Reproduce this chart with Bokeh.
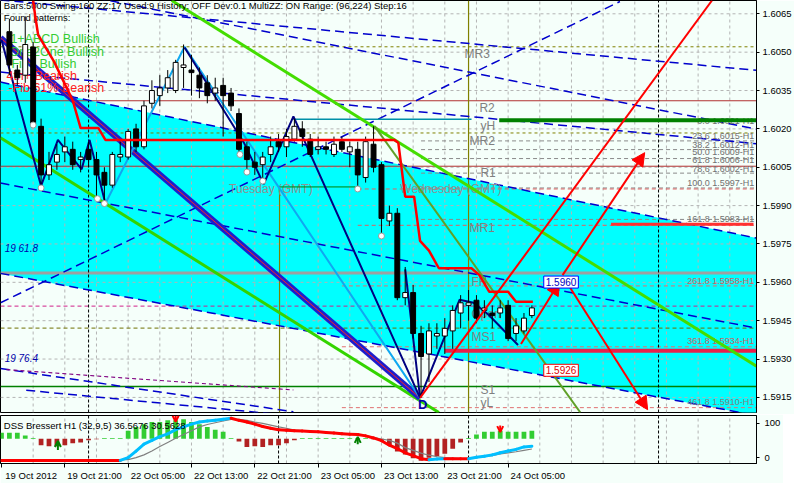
from bokeh.plotting import figure
from bokeh.models import (Range1d, FixedTicker, Label, Arrow, NormalHead, OpenHead,
                          NumeralTickFormatter, ColumnDataSource)
from bokeh.layouts import column
from bokeh.embed import file_html
from bokeh.resources import INLINE
from bokeh.core.properties import value

FONT = "Liberation Sans"
BG = "#F5FFFA"

# ---------------- data: H1 candles (bar 0 = 19 Oct 14:00) ----------------
opens = [1.6058, 1.6043, 1.6041, 1.6052, 1.6021, 1.6002, 1.6007, 1.6011, 1.6012, 1.6008,
         1.6012, 1.6008, 1.6003, 1.5998, 1.6009, 1.6009, 1.6020, 1.6013, 1.6030, 1.6033,
         1.6036, 1.6035, 1.6044, 1.6043, 1.6041, 1.6038, 1.6034, 1.6037, 1.6034, 1.6026,
         1.6013, 1.6007, 1.6006, 1.6010, 1.6015, 1.6013, 1.6016, 1.6020, 1.6016, 1.6012,
         1.6013, 1.6010, 1.6015, 1.6011, 1.6012, 1.6001, 1.6014, 1.6006, 1.5984, 1.5987,
         1.5954, 1.5956, 1.5940, 1.5932, 1.5939, 1.5939, 1.5941, 1.5948, 1.5951, 1.5953,
         1.5949, 1.5948, 1.5948, 1.5951, 1.5940, 1.5941, 1.5947]
highs = [1.6063, 1.6045, 1.6064, 1.6054, 1.6024, 1.6011, 1.6014, 1.6017, 1.6015, 1.6011,
         1.6015, 1.6011, 1.6005, 1.6011, 1.6015, 1.6020, 1.6022, 1.6031, 1.6039, 1.6041,
         1.6043, 1.6047, 1.6053, 1.6049, 1.6044, 1.6041, 1.6040, 1.6040, 1.6036, 1.6028,
         1.6015, 1.6011, 1.6011, 1.6017, 1.6018, 1.6020, 1.6024, 1.6023, 1.6018, 1.6017,
         1.6015, 1.6017, 1.6017, 1.6015, 1.6015, 1.6017, 1.6021, 1.6007, 1.5990, 1.5989,
         1.5966, 1.5959, 1.5943, 1.5944, 1.5944, 1.5946, 1.5951, 1.5955, 1.5957, 1.5955,
         1.5953, 1.5951, 1.5953, 1.5953, 1.5946, 1.5948, 1.5951]
lows = [1.6041, 1.6037, 1.6038, 1.6021, 1.5997, 1.6000, 1.6004, 1.6007, 1.6004, 1.6003,
        1.6005, 1.5993, 1.5991, 1.5997, 1.6007, 1.6008, 1.6011, 1.6012, 1.6028, 1.6029,
        1.6034, 1.6034, 1.6036, 1.6033, 1.6032, 1.6030, 1.6031, 1.6017, 1.6027, 1.6010,
        1.6003, 1.6002, 1.5999, 1.6007, 1.6011, 1.6009, 1.6015, 1.6013, 1.6009, 1.6010,
        1.6010, 1.6009, 1.6011, 1.6005, 1.5997, 1.5999, 1.6003, 1.5978, 1.5982, 1.5953,
        1.5951, 1.5938, 1.5915, 1.5921, 1.5934, 1.5932, 1.5934, 1.5942, 1.5945, 1.5944,
        1.5946, 1.5942, 1.5946, 1.5937, 1.5937, 1.5940, 1.5946]
closes = [1.6045, 1.6040, 1.6053, 1.6022, 1.6002, 1.6006, 1.6010, 1.6013, 1.6006, 1.6009,
          1.6008, 1.6002, 1.5998, 1.6010, 1.6010, 1.6019, 1.6013, 1.6029, 1.6035, 1.6036,
          1.6040, 1.6046, 1.6045, 1.6042, 1.6036, 1.6033, 1.6036, 1.6033, 1.6029, 1.6012,
          1.6008, 1.6005, 1.6009, 1.6013, 1.6013, 1.6017, 1.6021, 1.6017, 1.6010, 1.6013,
          1.6012, 1.6014, 1.6012, 1.6013, 1.6002, 1.6015, 1.6005, 1.5985, 1.5987, 1.5954,
          1.5956, 1.5940, 1.5931, 1.5941, 1.5940, 1.5942, 1.5949, 1.5952, 1.5952, 1.5946,
          1.5950, 1.5947, 1.5950, 1.5938, 1.5943, 1.5946, 1.5950]
assert len(opens) == len(highs) == len(lows) == len(closes) == 67
bars = list(range(len(opens)))

last_price = 1.5950
price_ticks = [1.5915, 1.5930, 1.5945, 1.5960, 1.5975, 1.5990, 1.6005, 1.6020, 1.6035, 1.6050, 1.6065]
time_ticks = [-1, 7, 15, 23, 31, 39, 47, 55, 63]
time_labels = ["19 Oct 2012", "19 Oct 21:00", "22 Oct 05:00", "22 Oct 13:00", "22 Oct 21:00",
               "23 Oct 05:00", "23 Oct 13:00", "23 Oct 21:00", "24 Oct 05:00"]
grid_bars = [3, 7, 11, 15, 19, 23, 27, 31, 35, 39, 43, 47, 51, 55, 59, 63, 67, 71, 75, 79, 83, 87, 91]

# regression channel (cyan band) corners
cyan_x = [-1.125, 94.375, 94.375, -1.125]
cyan_y = [1.60383, 1.59773, 1.59079, 1.59635]

# full-width horizontal levels (MR3, R2, MR2, R1, FH, bid, MS1, S1)
level_prices = [1.60521, 1.60310, 1.60184, 1.60054, 1.59636, 1.59507, 1.59421, 1.59193]
level_colors = ["#808000", "#B03030", "#808000", "#B03030", "#A0A0A0", "#D0208A", "#707000", "#008000"]
level_widths = [1, 1, 1, 1, 3, 1, 1, 1.5]
level_dashes = ["3 3", "solid", "3 3", "solid", "solid", "4 3", "4 3", "solid"]

# partial horizontal levels
part_prices = [1.60234, 1.59827, 1.59332, 1.60238, 1.59973]
part_x0 = [61.875, 76, 55, 35.875, 34.125]
part_x1 = [94.375, 94, 94.375, 58.375, 43.75]
part_colors = ["#008000", "#FF3030", "#E8204A", "#0090A8", "#008000"]
part_widths = [4, 3, 4, 1.5, 1]

# fibo dashed levels
fib_gray_prices = [1.60153, 1.60119, 1.60084, 1.60027, 1.59969, 1.59846]
fib_red_prices = [1.59965, 1.59823]
fib_pink_prices = [1.59586, 1.59348, 1.59110]

# dashed channel lines: (x0, y0, x1, y1)
chan_x0 = [-1.125, -1.125, -1.125, -1.125, -1.125, -1.125, -1.125, -1.125, 2.125]
chan_y0 = [1.60704, 1.60786, 1.60383, 1.60422, 1.59988, 1.59635, 1.59520, 1.59263, 1.59178]
chan_x1 = [94.375, 94.375, 94.375, 94.375, 94.375, 94.375, 77.125, 35.875, 34.625]
chan_y1 = [1.60429, 1.60199, 1.59773, 1.60142, 1.59421, 1.59079, 1.60698, 1.59094, 1.59082]
purple_x = [-0.375, 35.875]
purple_y = [1.59259, 1.59179]

# trend lines
blue_x = [-1.125, 51.875]
blue_y = [1.60556, 1.59148]
green1_x = [-1.125, 54.25]
green1_y = [1.60165, 1.59091]
green2_x = [20.5, 94.375]
green2_y = [1.60702, 1.59272]
green3_x = [46.125, 72.125]
green3_y = [1.60211, 1.59091]

# zigzags
zz1_x = [-1, 4, 6.125, 9.125, 10.125, 12.125]
zz1_y = [1.60548, 1.59977, 1.60157, 1.60042, 1.60157, 1.59908]
zz2_x = [22.125, 29.625, 32.125, 35.875, 51.875]
zz2_y = [1.60518, 1.60146, 1.59984, 1.60249, 1.59148]
zz3_x = [50, 51.875, 56.875, 58.625, 60.5, 64.25]
zz3_y = [1.59651, 1.59148, 1.59532, 1.59520, 1.59474, 1.59355]
lb_x = [12.125, 22.125, 51.875]
lb_y = [1.59908, 1.60521, 1.59148]

# red step line
step_x = [3, 3.25, 3.625, 5.625, 8, 9, 11.25, 12.125, 48.625, 49.125, 50, 51.125, 51.875,
          53, 54.25, 58.375, 59.375, 60.625, 63, 64, 66.125]
step_y = [1.60702, 1.60644, 1.60568, 1.60464, 1.60311, 1.60203, 1.60203, 1.60157, 1.60157,
          1.60146, 1.59935, 1.59935, 1.59762, 1.59724, 1.59655, 1.59655, 1.59628, 1.59563,
          1.59563, 1.59524, 1.59524]

# projection arrows
proj_x = [51.875, 88.75]
proj_y = [1.59148, 1.60702]
arrow_x0 = [64.625, 70.375, 69.875]
arrow_y0 = [1.59359, 1.59601, 1.59628]
arrow_x1 = [69.5, 80.625, 80.25]
arrow_y1 = [1.59601, 1.59102, 1.60107]

# swing markers
swing_x = [3, 4, 11.125, 12, 29.125, 30, 32, 44, 47]
swing_y = [1.60215, 1.59969, 1.59927, 1.59908, 1.60100, 1.60031, 1.59996, 1.59965, 1.59781]

# texts
info_text = "Bars:5000 Swing:160 ZZ:17 Used:9 History: OFF Dev:0.1 MultiZZ: ON Range: (96,224) Step:16"
pattern_text = ["1+ABCD Bullish", "One2One Bullish", "Fib+ Bullish", "4th+ Bearish", "-Fib 61% Bearish"]
pattern_x = [0.125, 0.0, 0.25, -0.375, -0.125]
pattern_y = [1.60552, 1.60502, 1.60452, 1.60406, 1.60360]
pattern_colors = ["#33CC33", "#33CC33", "#33CC33", "#FF2020", "#FF2020"]
lvl_text = ["MR3", "R2", "yH", "MR2", "R1", "MR1", "FH", "Open", "MS1", "S1", "yL"]
lvl_text_x = [57.5, 59.375, 59.5, 58.125, 59.5, 58.125, 58.375, 58.375, 58.375, 59.5, 59.5]
lvl_text_y = [1.60491, 1.60280, 1.60211, 1.60153, 1.60027, 1.59812, 1.59601, 1.59478, 1.59386, 1.59179, 1.59128]
sess_text = ["Tuesday  (GMT)", "Wednesday  (GMT)"]
sess_x = [27.75, 49.375]
sess_y = [1.59965, 1.59965]
fib_text = ["0.0 1.6021-H1", "23.6 1.6015-H1", "38.2 1.6012-H1", "50.0 1.6009-H1", "61.8 1.6006-H1",
            "78.6 1.6002-H1", "100.0 1.5997-H1", "161.8 1.5983-H1", "261.8 1.5958-H1",
            "361.8 1.5934-H1", "461.8 1.5910-H1"]
fib_text_y = [1.60230, 1.60172, 1.60138, 1.60111, 1.60080, 1.60042, 1.59988, 1.59846, 1.59605, 1.59371, 1.59133]
fib_text_colors = ["#707070"] * 8 + ["#C86464", "#C86464", "#808080"]
chan_text = ["19 61.8", "19 76.4"]
chan_text_y = [1.59712, 1.59282]

# ---------------- DSS Bressert indicator ----------------
ind_bars = list(range(-1, 67))
hist_vals = [72, 72, 72, 64, 57, 36, 33, 33, 36, 42,
             44, 50, 53, 57, 57, 57, 78, 89, 97, 103,
             103, 108, 108, 111, 103, 97, 89, 81, 75, 57,
             47, 31, 33, 31, 36, 36, 42, 50, 57, 57,
             57, 57, 57, 57, 57, 57, 57, 53, 48, 35,
             18, 9, -2, -9, 0, 5, 11, 26, 44, 57,
             67, 75, 75, 78, 75, 75, 75, 78]
dss_main = [-8, -8, -8, -8, -8, -8, -8, -8, -8, -8,
            -8, -8, -8, -8, -8, -8, 0, 19, 39, 50,
            61, 69, 81, 89, 97, 103, 106, 108, 111, 114,
            108, 103, 97, 90, 85, 81, 79, 78, 77, 76,
            75, 73, 71, 69, 68, 67, 63, 57, 49, 36,
            26, 14, 6, -3, -6, -4, -3, -3, -3, -3,
            1, 4, 8, 14, 19, 24, 31, 33]
dss_signal = [-6, -6, -6, -6, -6, -6, -6, -6, -6, -6,
              -6, -6, -6, -6, -6, -6, -6, 0, 8, 19,
              32, 44, 56, 67, 78, 89, 96, 101, 106, 111,
              111, 108, 103, 99, 94, 89, 85, 80, 78, 76,
              75, 73, 71, 70, 69, 68, 64, 59, 54, 50,
              42, 29, 21, 13, 7, 3, 0, -1, -3, -3,
              0, 3, 6, 11, 14, 17, 21, 25]
assert len(hist_vals) == len(dss_main) == len(dss_signal) == len(ind_bars)
hist_base = 55
day_sep = [10, 34, 58, 82]
ind_up_x = [6.125, 44]
ind_up_y0 = [22, 39]
ind_up_y1 = [48, 60]
ind_dn_x = [21, 62]
ind_dn_y0 = [121, 93]
ind_dn_y1 = [104, 74]

X_MIN, X_MAX = -1.125, 94.375
Y_MIN, Y_MAX = 1.59091, 1.60702

# ================= main price pane =================
p = figure(frame_width=756, frame_height=412,
           x_range=Range1d(X_MIN, X_MAX), y_range=Range1d(Y_MIN, Y_MAX),
           x_axis_location=None, y_axis_location="right",
           output_backend="svg", toolbar_location=None,
           background_fill_color=BG, border_fill_color=BG,
           min_border_left=0, min_border_top=0, min_border_bottom=2, min_border_right=0)
p.grid.visible = False
p.outline_line_color = "black"
ya = p.yaxis[0]
ya.ticker = FixedTicker(ticks=price_ticks)
ya.formatter = NumeralTickFormatter(format="0.0000")
ya.major_label_text_font = FONT
ya.major_label_text_font_size = "9.5px"
ya.major_label_text_color = "black"
ya.axis_line_color = "black"
ya.major_tick_in = 0
ya.major_tick_out = 3
ya.minor_tick_line_color = None
ya.major_label_standoff = 3

# cyan channel
p.patch(x=cyan_x, y=cyan_y, fill_color="#00FFFF", line_color=None)

# grid
p.multi_line(xs=[[b, b] for b in grid_bars], ys=[[Y_MIN, Y_MAX] for _ in grid_bars],
             line_color="#B4B4B4", line_dash="3 3", line_width=1)
p.multi_line(xs=[[X_MIN, X_MAX] for _ in price_ticks], ys=[[t, t] for t in price_ticks],
             line_color="#B4B4B4", line_dash="3 3", line_width=1)

# fib dashed
for fp in fib_gray_prices:
    p.segment(x0=[52], y0=[fp], x1=[X_MAX], y1=[fp], line_color="#8A8A8A", line_dash="4 3", line_width=1)
for fp in fib_red_prices:
    p.segment(x0=[44], y0=[fp], x1=[X_MAX], y1=[fp], line_color="#E06060", line_dash="4 3", line_width=1)
for fp in fib_pink_prices:
    p.segment(x0=[42], y0=[fp], x1=[X_MAX], y1=[fp], line_color="#E07070", line_dash="4 3", line_width=1)

# full-width levels
for lp, lc, lw, ld in zip(level_prices, level_colors, level_widths, level_dashes):
    p.segment(x0=[X_MIN], y0=[lp], x1=[X_MAX], y1=[lp], line_color=lc, line_width=lw, line_dash=ld)

# vertical separators
p.segment(x0=[day_sep[0], day_sep[3]], y0=[Y_MIN, Y_MIN], x1=[day_sep[0], day_sep[3]], y1=[Y_MAX, Y_MAX],
          line_color="black", line_dash="3 2", line_width=1)
p.segment(x0=[day_sep[2]], y0=[Y_MIN], x1=[day_sep[2]], y1=[Y_MAX], line_color="#808000", line_width=1.2)
p.segment(x0=[34.125], y0=[Y_MIN], x1=[34.125], y1=[part_prices[4]], line_color="#808000", line_width=1.2)

# dashed channel lines
p.segment(x0=chan_x0, y0=chan_y0, x1=chan_x1, y1=chan_y1, line_color="#0000CC",
          line_dash="9 5", line_width=1.5)
p.line(purple_x, purple_y, line_color="#800080", line_dash="4 3", line_width=1.2)

# level texts
p.text(x=lvl_text_x, y=lvl_text_y, text=lvl_text, text_font=value(FONT), text_font_size="12px",
       text_color="#808080", text_baseline="middle", text_align="left")
p.text(x=sess_x, y=sess_y, text=sess_text, text_font=value(FONT), text_font_size="12px",
       text_color="#909090", text_baseline="middle", text_align="left")
p.text(x=[94.1] * len(fib_text), y=fib_text_y, text=fib_text, text_font=value(FONT),
       text_font_size="9px", text_color=fib_text_colors, text_baseline="middle", text_align="right")
p.text(x=[-0.6, -0.6], y=chan_text_y, text=chan_text, text_font=value(FONT), text_font_size="10px",
       text_font_style="italic", text_color="#0000AA", text_baseline="bottom", text_align="left")

# partial levels (thick)
for pp, x0, x1, pc, pw in zip(part_prices, part_x0, part_x1, part_colors, part_widths):
    p.segment(x0=[x0], y0=[pp], x1=[x1], y1=[pp], line_color=pc, line_width=pw)

# trend lines
p.line(green1_x, green1_y, line_color="#33D400", line_width=3)
p.line(green2_x, green2_y, line_color="#44DD00", line_width=3)
p.line(green3_x, green3_y, line_color="#60A028", line_width=2)
p.line(blue_x, blue_y, line_color="#1E1ECC", line_width=6)
p.line(blue_x, blue_y, line_color="#FF2020", line_width=1)

# zigzags
p.line(lb_x, lb_y, line_color="#10A8F0", line_width=2)
p.line(zz1_x, zz1_y, line_color="#000080", line_width=2)
p.line(zz2_x, zz2_y, line_color="#000080", line_width=2)
p.line(zz3_x, zz3_y, line_color="#000080", line_width=2)

# info texts
p.text(x=[-0.7], y=[1.60683], text=[info_text], text_font=value(FONT), text_font_size="9.5px",
       text_color="black", text_baseline="middle", text_align="left")
p.text(x=[-0.7], y=[1.60637], text=["Found patterns:"], text_font=value(FONT), text_font_size="9.5px",
       text_color="black", text_baseline="middle", text_align="left")
p.text(x=pattern_x, y=pattern_y, text=pattern_text, text_font=value(FONT), text_font_size="12.5px",
       text_color=pattern_colors, text_baseline="middle", text_align="left")

# candles
body_top = [max(o, c) for o, c in zip(opens, closes)]
body_bot = [min(o, c) for o, c in zip(opens, closes)]
body_fill = ["white" if c >= o else "black" for o, c in zip(opens, closes)]
p.segment(x0=bars, y0=lows, x1=bars, y1=highs, line_color="black", line_width=1)
p.vbar(x=bars, width=0.62, top=body_top, bottom=body_bot, fill_color=body_fill,
       line_color="black", line_width=1)

# red step line
p.line(step_x, step_y, line_color="#FF0000", line_width=2.5)

# swing markers
p.scatter(x=swing_x, y=swing_y, marker="circle", size=6, fill_color="white", line_color="#9A9A9A")
p.text(x=[51.6], y=[1.59093], text=["D"], text_font=value(FONT), text_font_size="13px",
       text_font_style="bold", text_color="#0000AA", text_baseline="bottom", text_align="left")

# projection
p.line(proj_x, proj_y, line_color="#FF0000", line_width=2)
asrc = ColumnDataSource(dict(x0=arrow_x0, y0=arrow_y0, x1=arrow_x1, y1=arrow_y1))
p.add_layout(Arrow(end=NormalHead(size=13, fill_color="#FF0000", line_color="#FF0000"),
                   x_start="x0", y_start="y0", x_end="x1", y_end="y1", source=asrc,
                   line_color="#FF0000", line_width=2))

p.add_layout(Label(x=67.5, y=1.59601, text="1.5960", text_font=FONT, text_font_size="10px",
                   text_color="#0000C0", text_baseline="middle", background_fill_color="white",
                   border_line_color="#0000FF", padding=2))
p.add_layout(Label(x=67.5, y=1.59256, text="1.5926", text_font=FONT, text_font_size="10px",
                   text_color="#E00000", text_baseline="middle", background_fill_color="white",
                   border_line_color="#FF0000", padding=2))
p.add_layout(Label(x=X_MAX, y=last_price, x_offset=1, text="1.5950", text_font=FONT,
                   text_font_size="9.5px", text_color="white", text_baseline="middle",
                   background_fill_color="black", padding=2))

# ================= indicator pane =================
p2 = figure(frame_width=756, frame_height=48, x_range=p.x_range, y_range=Range1d(-17, 122),
            y_axis_location="right", output_backend="svg", toolbar_location=None,
            background_fill_color=BG, border_fill_color=BG,
            min_border_left=0, min_border_top=1, min_border_right=0, min_border_bottom=0)
p2.grid.visible = False
p2.outline_line_color = "black"
xa = p2.xaxis[0]
xa.ticker = FixedTicker(ticks=[t + 3.75 for t in time_ticks], minor_ticks=time_ticks)
xa.major_label_overrides = {t + 3.75: lab for t, lab in zip(time_ticks, time_labels)}
xa.major_tick_out = 0
xa.major_tick_in = 0
xa.minor_tick_out = 4
xa.minor_tick_in = 0
xa.minor_tick_line_color = "black"
xa.axis_line_color = "black"
xa.major_label_standoff = 2
xa.major_label_text_font = FONT
xa.major_label_text_font_size = "9.5px"
xa.major_label_text_color = "black"
ya2 = p2.yaxis[0]
ya2.ticker = FixedTicker(ticks=[0, 100])
ya2.major_label_text_font = FONT
ya2.major_label_text_font_size = "9.5px"
ya2.major_label_text_color = "black"
ya2.major_tick_in = 0
ya2.major_tick_out = 3
ya2.minor_tick_line_color = None
ya2.axis_line_color = "black"

p2.multi_line(xs=[[b, b] for b in grid_bars], ys=[[-17, 122] for _ in grid_bars],
              line_color="#B4B4B4", line_dash="3 3", line_width=1)
p2.segment(x0=day_sep, y0=[-17] * 4, x1=day_sep, y1=[122] * 4, line_color="black",
           line_dash="3 2", line_width=1)

h_col = ["#32CD32" if v >= hist_base else "#B22222" for v in hist_vals]
p2.vbar(x=ind_bars, width=0.6, bottom=hist_base, top=hist_vals, fill_color=h_col, line_color=None)
p2.line(ind_bars, dss_signal, line_color="#808080", line_width=1.2)
seg_col = ["#00BFFF" if dss_main[i + 1] > dss_main[i] else "#FF0000" for i in range(len(dss_main) - 1)]
p2.segment(x0=ind_bars[:-1], y0=dss_main[:-1], x1=ind_bars[1:], y1=dss_main[1:],
           line_color=seg_col, line_width=3, line_cap="round")
p2.text(x=[-0.7], y=[92], text=["DSS Bressert H1 (32,9,5) 36.5676 30.5628"], text_font=value(FONT),
        text_font_size="9.5px", text_color="black", text_baseline="middle", text_align="left")
for ux, u0, u1 in zip(ind_up_x, ind_up_y0, ind_up_y1):
    p2.add_layout(Arrow(end=OpenHead(size=6, line_color="#008000", line_width=2),
                        x_start=ux, y_start=u0, x_end=ux, y_end=u1, line_color="#008000", line_width=2))
for dx, d0, d1 in zip(ind_dn_x, ind_dn_y0, ind_dn_y1):
    p2.add_layout(Arrow(end=OpenHead(size=6, line_color="#FF0000", line_width=2),
                        x_start=dx, y_start=d0, x_end=dx, y_end=d1, line_color="#FF0000", line_width=2))

layout = column(p, p2)
open("out.html", "w").write(file_html(layout, INLINE))
